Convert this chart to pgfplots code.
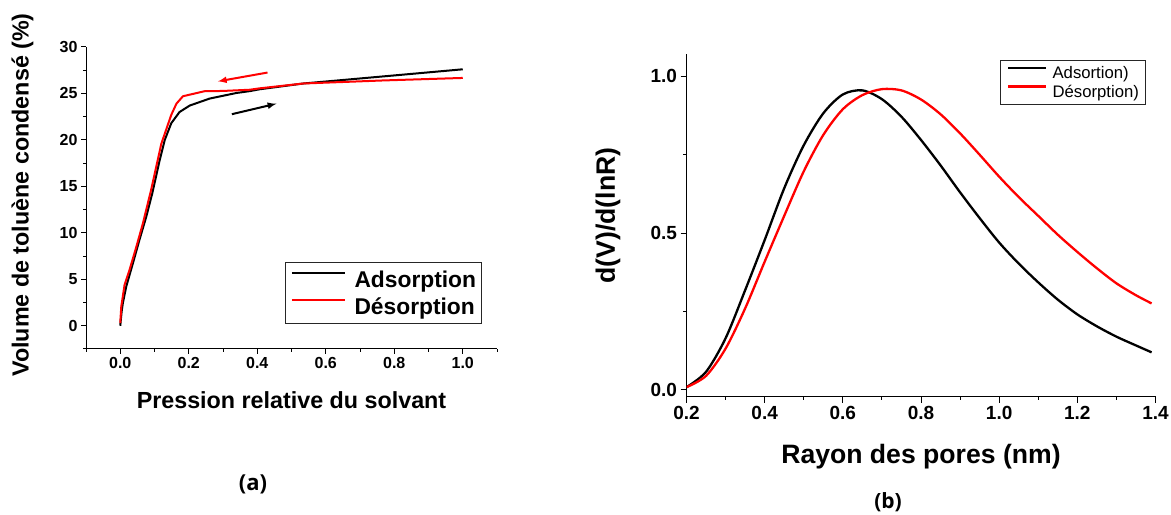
\documentclass[border=0pt]{standalone}
\usepackage{fontspec}
\setmainfont{Liberation Sans}
\newfontfamily\capfont{Open Sans}
\usepackage{pgfplots}
\pgfplotsset{compat=1.18}
\begin{document}
\begin{tikzpicture}
\path[use as bounding box] (0bp,0bp) rectangle (1171bp,515bp);
% ---------------- (a) ----------------
\begin{axis}[
  at={(86bp,166bp)}, anchor=south west,
  scale only axis, width=411bp, height=302bp,
  xmin=-0.1, xmax=1.1, ymin=-2.5, ymax=30,
  axis x line*=bottom, axis y line*=left,
  axis line style={line width=1bp,-},
  tick align=outside,
  major tick length=5bp, minor tick length=3bp,
  every tick/.style={line width=1bp, black},
  xtick={0,0.2,0.4,0.6,0.8,1.0},
  minor xtick={-0.1,0.1,0.3,0.5,0.7,0.9,1.1},
  ytick={0,5,10,15,20,25,30},
  minor ytick={-2.5,2.5,7.5,12.5,17.5,22.5,27.5},
  xticklabel style={/pgf/number format/.cd, fixed, fixed zerofill, precision=1},
  /pgf/number format/assume math mode=true,
  ticklabel style={font=\bfseries\fontsize{16bp}{19bp}\selectfont},
  every axis x label/.style={at={(axis description cs:0.5,-0.1954)}, anchor=base},
  every axis y label/.style={at={(axis description cs:-0.1399,0.51)}, rotate=90, anchor=base},
  label style={font=\bfseries\fontsize{23.3bp}{28bp}\selectfont},
  xlabel={Pression relative du solvant},
  ylabel={Volume de toluène condensé (\%)},
  legend cell align=left,
  legend image code/.code={\draw[#1] (0bp,7bp) -- (53bp,7bp);},
  legend style={at={(axis description cs:0.4842,0.2881)}, anchor=north west,
    draw=black!85, line width=1bp, inner xsep=5.3bp, inner ysep=8.3bp,
    row sep=8.6bp, column sep=8.7bp, nodes={inner sep=0bp},
    font=\bfseries\fontsize{22.8bp}{27bp}\selectfont},
]
\addplot[black, line width=2bp, line join=round] coordinates {
(0,0) (0.004,1.5) (0.0076,2.44) (0.0175,4.22) (0.037,6.73) (0.056,9.24)
(0.076,11.74) (0.0935,14.25) (0.115,17.8) (0.13,20.0) (0.149,21.8)
(0.173,23.0) (0.203,23.7) (0.261,24.45) (0.30,24.75) (0.339,25.05)
(0.378,25.25) (0.407,25.45) (0.534,26.07) (0.8,26.94) (1.0,27.6)};
\addlegendentry{Adsorption}
\addplot[red, line width=2bp, line join=round] coordinates {
(0,0.3) (0.003,2.07) (0.0126,4.4) (0.027,6.0) (0.047,8.5) (0.066,11.0)
(0.09,14.6) (0.12,19.6) (0.149,22.7) (0.164,23.9) (0.183,24.7)
(0.246,25.24) (0.30,25.27) (0.378,25.4) (0.407,25.55) (0.534,26.07)
(0.768,26.4) (1.0,26.67)};
\addlegendentry{Désorption}
\addplot[red, line width=2bp, -latex, forget plot] coordinates {(0.43,27.25) (0.285,26.3)};
\addplot[black, line width=2bp, -latex, forget plot] coordinates {(0.326,22.77) (0.456,23.9)};
\end{axis}
% ---------------- (b) ----------------
\begin{axis}[
  at={(686.5bp,118.3bp)}, anchor=south west,
  scale only axis, width=469bp, height=342.4bp,
  xmin=0.2, xmax=1.4, ymin=-0.0214, ymax=1.0701,
  axis x line*=bottom, axis y line*=left,
  axis line style={line width=1bp,-},
  tick align=outside,
  major tick length=6bp, minor tick length=3.3bp,
  every tick/.style={line width=1bp, black},
  xtick={0.2,0.4,0.6,0.8,1.0,1.2,1.4},
  minor xtick={0.3,0.5,0.7,0.9,1.1,1.3},
  ytick={0,0.5,1.0},
  minor ytick={0.25,0.75},
  xticklabel style={/pgf/number format/.cd, fixed, fixed zerofill, precision=1},
  yticklabel style={/pgf/number format/.cd, fixed, fixed zerofill, precision=1},
  /pgf/number format/assume math mode=true,
  ticklabel style={font=\bfseries\fontsize{19bp}{22bp}\selectfont},
  every axis x label/.style={at={(axis description cs:0.5,-0.1965)}, anchor=base},
  every axis y label/.style={at={(axis description cs:-0.1525,0.529)}, rotate=90, anchor=base},
  label style={font=\bfseries\fontsize{26.6bp}{31bp}\selectfont},
  xlabel={Rayon des pores (nm)},
  ylabel={d(V)/d(lnR)},
  legend cell align=left,
  legend image code/.code={\draw[#1] (0bp,5.5bp) -- (38.3bp,5.5bp);},
  legend style={at={(axis description cs:0.6684,0.9825)}, anchor=north west,
    draw=black!85, line width=1bp, inner xsep=6.5bp, inner ysep=6bp,
    row sep=4.6bp, column sep=5bp, nodes={inner sep=0bp},
    font=\fontsize{16.7bp}{20bp}\selectfont},
]
\addplot[black, line width=2.3bp, smooth, line join=round] coordinates {
(0.20,0.009) (0.25,0.058) (0.30,0.165) (0.35,0.318) (0.40,0.478)
(0.45,0.643) (0.50,0.780) (0.55,0.882) (0.60,0.942) (0.65,0.955)
(0.70,0.927) (0.75,0.871) (0.80,0.797) (0.85,0.716)
(0.90,0.630) (0.95,0.548) (1.00,0.470) (1.05,0.403) (1.10,0.343)
(1.15,0.288) (1.20,0.241) (1.25,0.203) (1.30,0.170) (1.35,0.142)
(1.39,0.120)};
\addlegendentry{Adsortion)}
\addplot[red, line width=2.3bp, smooth, line join=round] coordinates {
(0.20,0.009) (0.25,0.045) (0.30,0.132) (0.35,0.260) (0.40,0.409)
(0.45,0.555) (0.50,0.697) (0.55,0.813) (0.60,0.895) (0.65,0.940)
(0.70,0.959) (0.75,0.955) (0.80,0.926) (0.85,0.879)
(0.90,0.818) (0.95,0.750) (1.00,0.680) (1.05,0.615) (1.10,0.555)
(1.15,0.495) (1.20,0.440) (1.25,0.388) (1.30,0.340) (1.35,0.302)
(1.39,0.276)};
\addlegendentry{Désorption)}
\end{axis}
\node[font=\capfont\bfseries\fontsize{22bp}{26bp}\selectfont] at (253bp,31bp) {(a)};
\node[font=\capfont\bfseries\fontsize{21bp}{25bp}\selectfont] at (888bp,12.5bp) {(b)};
\end{tikzpicture}
\end{document}
